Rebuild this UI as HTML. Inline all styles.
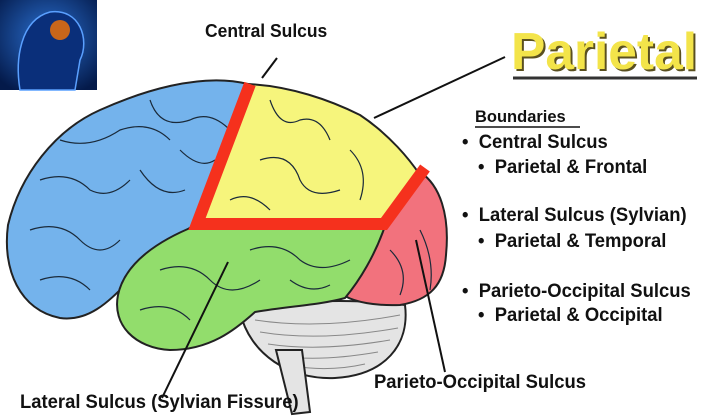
<!DOCTYPE html>
<html><head><style>
body{margin:0;width:720px;height:416px;background:#fff;overflow:hidden;position:relative;font-family:"Liberation Sans",sans-serif}
.t{position:absolute;font-weight:bold;color:#111;white-space:nowrap;transform:scaleX(0.97);transform-origin:left top}
</style></head><body>
<svg width="720" height="416" style="position:absolute;left:0;top:0">
<defs><radialGradient id="g" cx="0.5" cy="0.4" r="0.7"><stop offset="0" stop-color="#2a6fd0"/><stop offset="1" stop-color="#041a4a"/></radialGradient></defs>
<rect x="0" y="0" width="97" height="90" fill="url(#g)"/>
<path d="M20 90 C15 60 20 20 50 12 C80 8 90 40 80 60 L75 90Z" fill="#0a2f7a" stroke="#5aa0ff" stroke-width="1.5"/>
<circle cx="60" cy="30" r="10" fill="#c8661a"/>
<path d="M240 312 C280 300 350 298 405 305 C410 345 385 375 335 378 C290 380 250 355 240 312Z" fill="#e4e4e4" stroke="#222" stroke-width="2"/>
<g stroke="#888" stroke-width="1" fill="none"><path d="M255 320 Q320 330 400 315"/><path d="M260 332 Q320 342 398 328"/><path d="M268 344 Q320 352 390 340"/><path d="M280 356 Q320 362 378 352"/><path d="M292 366 Q330 372 365 364"/></g>
<path d="M276 350 L292 414 L310 412 L302 350Z" fill="#e4e4e4" stroke="#222" stroke-width="2"/>
<path d="M380 228 L420 172 C440 185 450 215 446 255 C444 285 430 300 400 305 C375 306 355 302 345 296 C360 270 372 250 380 228Z" fill="#f2727d" stroke="#222" stroke-width="2"/>
<path d="M248 84 C200 72 140 92 100 110 C55 130 20 175 8 225 C2 270 20 310 60 318 C90 322 110 300 130 280 C155 250 185 232 195 224Z" fill="#74b3ec" stroke="#222" stroke-width="2"/>
<path d="M248 84 C290 86 330 100 360 115 C390 135 410 160 420 175 L385 226 L195 226 Z" fill="#f6f57c" stroke="#222" stroke-width="2"/>
<path d="M195 226 L385 226 C375 255 360 280 345 298 C320 305 290 306 255 312 C235 330 210 350 170 350 C135 348 112 325 118 295 C125 262 160 240 195 226Z" fill="#92dd6c" stroke="#222" stroke-width="2"/>
<g stroke="#1a2a3a" stroke-width="1.2" fill="none">
<path d="M40 180 Q70 170 90 190 Q110 200 130 180"/><path d="M30 230 Q60 220 80 240 Q100 260 120 240"/><path d="M60 140 Q90 150 120 130 Q150 120 170 140"/><path d="M140 170 Q160 200 185 190"/><path d="M150 100 Q160 130 190 120 Q210 110 230 130"/><path d="M40 280 Q70 270 90 290"/><path d="M180 150 Q200 170 215 160"/>
<path d="M270 100 Q280 130 300 120 Q320 115 330 140"/><path d="M260 160 Q290 150 300 180 Q310 200 340 190"/><path d="M350 150 Q370 170 360 200"/><path d="M230 200 Q250 190 270 210"/>
<path d="M160 270 Q190 260 210 280 Q230 300 260 280"/><path d="M250 250 Q280 240 300 260 Q320 275 350 260"/><path d="M140 310 Q170 300 190 320"/><path d="M290 280 Q310 295 330 285"/>
<path d="M390 250 Q410 270 400 295"/><path d="M420 230 Q435 260 430 290"/>
</g>
<polyline points="250,84 197,224 384,224 425,168" fill="none" stroke="#f5311d" stroke-width="12" stroke-linejoin="miter"/>
<g stroke="#111" stroke-width="2"><line x1="262" y1="78" x2="277" y2="58"/><line x1="374" y1="118" x2="505" y2="57"/><line x1="228" y1="262" x2="162" y2="398"/><line x1="416" y1="240" x2="445" y2="372"/></g>
<line x1="513" y1="78" x2="697" y2="78" stroke="#333" stroke-width="3"/>
<line x1="475" y1="127" x2="580" y2="127" stroke="#111" stroke-width="1.5"/>
</svg>
<div class="t" style="left:205px;top:21px;font-size:18px">Central Sulcus</div>
<div style="position:absolute;left:511px;top:22px;font-size:52px;font-weight:bold;color:#f3e44a;text-shadow:2px 2px 0 #5a5020;transform:scaleX(0.99);transform-origin:left top;white-space:nowrap">Parietal</div>
<div class="t" style="left:475px;top:107px;font-size:17px">Boundaries</div>
<div class="t" style="left:462px;top:132px;font-size:19px">•&nbsp; Central Sulcus</div>
<div class="t" style="left:478px;top:157px;font-size:19px">•&nbsp; Parietal &amp; Frontal</div>
<div class="t" style="left:462px;top:205px;font-size:19px">•&nbsp; Lateral Sulcus (Sylvian)</div>
<div class="t" style="left:478px;top:231px;font-size:19px">•&nbsp; Parietal &amp; Temporal</div>
<div class="t" style="left:462px;top:281px;font-size:19px">•&nbsp; Parieto-Occipital Sulcus</div>
<div class="t" style="left:478px;top:305px;font-size:19px">•&nbsp; Parietal &amp; Occipital</div>
<div class="t" style="left:374px;top:372px;font-size:19px">Parieto-Occipital Sulcus</div>
<div class="t" style="left:20px;top:392px;font-size:19px">Lateral Sulcus (Sylvian Fissure)</div>
</body></html>
